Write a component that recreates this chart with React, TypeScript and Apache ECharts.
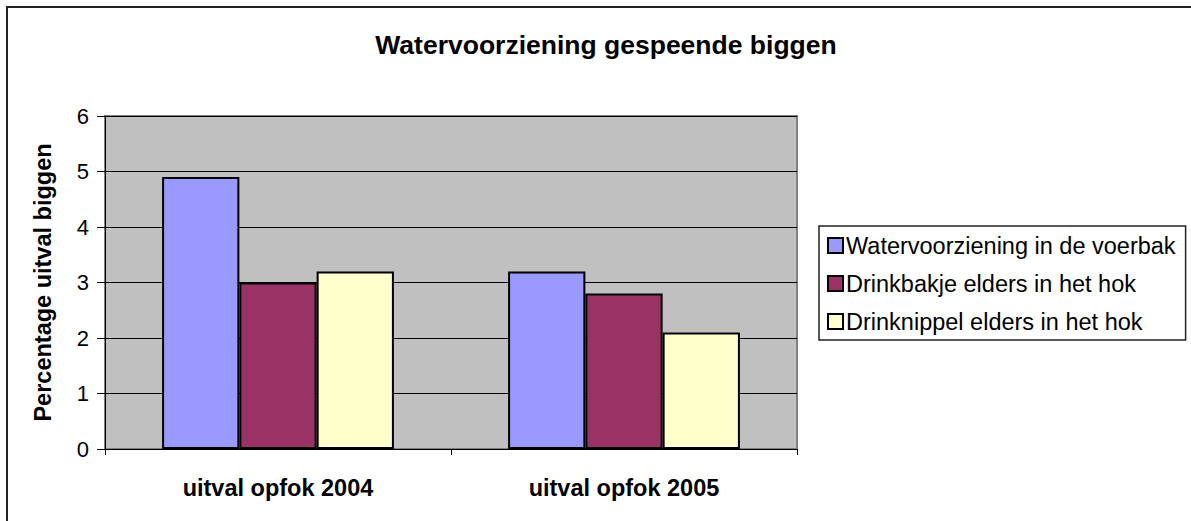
import React, { useEffect, useRef } from "react";
import * as echarts from "echarts";

const categories = ["uitval opfok 2004", "uitval opfok 2005"];
const seriesNames = [
  "Watervoorziening in de voerbak",
  "Drinkbakje elders in het hok",
  "Drinknippel elders in het hok",
];
const waterVoerbak = [4.9, 3.2];
const drinkbakje = [3.0, 2.8];
const drinknippel = [3.2, 2.1];
const seriesColors = ["#9999FF", "#993366", "#FFFFCC"];
const yTicks = { min: 0, max: 6, interval: 1 };

export default function App() {
  const ref = useRef<HTMLDivElement>(null);
  useEffect(() => {
    if (!ref.current) return;
    const chart = echarts.init(ref.current, null, { renderer: "svg" });
    const values = [waterVoerbak, drinkbakje, drinknippel];
    chart.setOption({
      animation: false,
      backgroundColor: "#FFFFFF",
      textStyle: { fontFamily: "Liberation Sans, Arial, sans-serif" },
      title: {
        text: "Watervoorziening gespeende biggen",
        left: 601,
        textAlign: "center",
        top: 26,
        textStyle: { fontSize: 26.5, fontWeight: "bold", color: "#000" },
      },
      graphic: [
        {
          type: "rect",
          shape: { x: 7, y: 7, width: 2000, height: 2000 },
          style: { fill: "none", stroke: "#222", lineWidth: 2 },
          silent: true,
        },
      ],
      legend: {
        orient: "vertical",
        left: 819,
        top: 226,
        padding: [7, 10, 6, 8],
        itemGap: 13,
        itemWidth: 15,
        itemHeight: 15,
        borderColor: "#222",
        borderWidth: 1.5,
        backgroundColor: "#FFFFFF",
        icon: "rect",
        textStyle: { fontSize: 23.5, color: "#000", lineHeight: 25, padding: [0, 0, 0, -2] },
        data: seriesNames,
      },
      grid: {
        left: 105,
        top: 116,
        width: 692,
        height: 333,
        show: true,
        backgroundColor: "#C0C0C0",
        borderColor: "#808080",
        borderWidth: 2,
      },
      xAxis: {
        type: "category",
        data: categories,
        axisLine: { lineStyle: { color: "#000", width: 1 } },
        axisTick: { show: true, length: 6, lineStyle: { color: "#000" } },
        axisLabel: { fontSize: 23.5, fontWeight: "bold", color: "#000", margin: 27 },
      },
      yAxis: {
        type: "value",
        min: yTicks.min,
        max: yTicks.max,
        interval: yTicks.interval,
        name: "Percentage uitval biggen",
        nameLocation: "middle",
        nameGap: 50,
        nameTextStyle: { fontSize: 23.5, fontWeight: "bold", color: "#000" },
        axisLine: { show: true, lineStyle: { color: "#000", width: 1 } },
        axisTick: { show: true, length: 8, lineStyle: { color: "#000" } },
        axisLabel: { fontSize: 22, color: "#000", margin: 16 },
        splitLine: { show: true, lineStyle: { color: "#000", width: 1 } },
      },
      series: seriesNames.map((name, i) => ({
        name,
        type: "bar",
        data: values[i],
        barGap: "0%",
        barCategoryGap: "33%",
        itemStyle: { color: seriesColors[i], borderColor: "#000", borderWidth: 2 },
      })),
    });
    return () => chart.dispose();
  }, []);
  return (
    <div
      ref={ref}
      style={{ position: "fixed", left: 0, top: 0, width: 1191, height: 521 }}
    />
  );
}
